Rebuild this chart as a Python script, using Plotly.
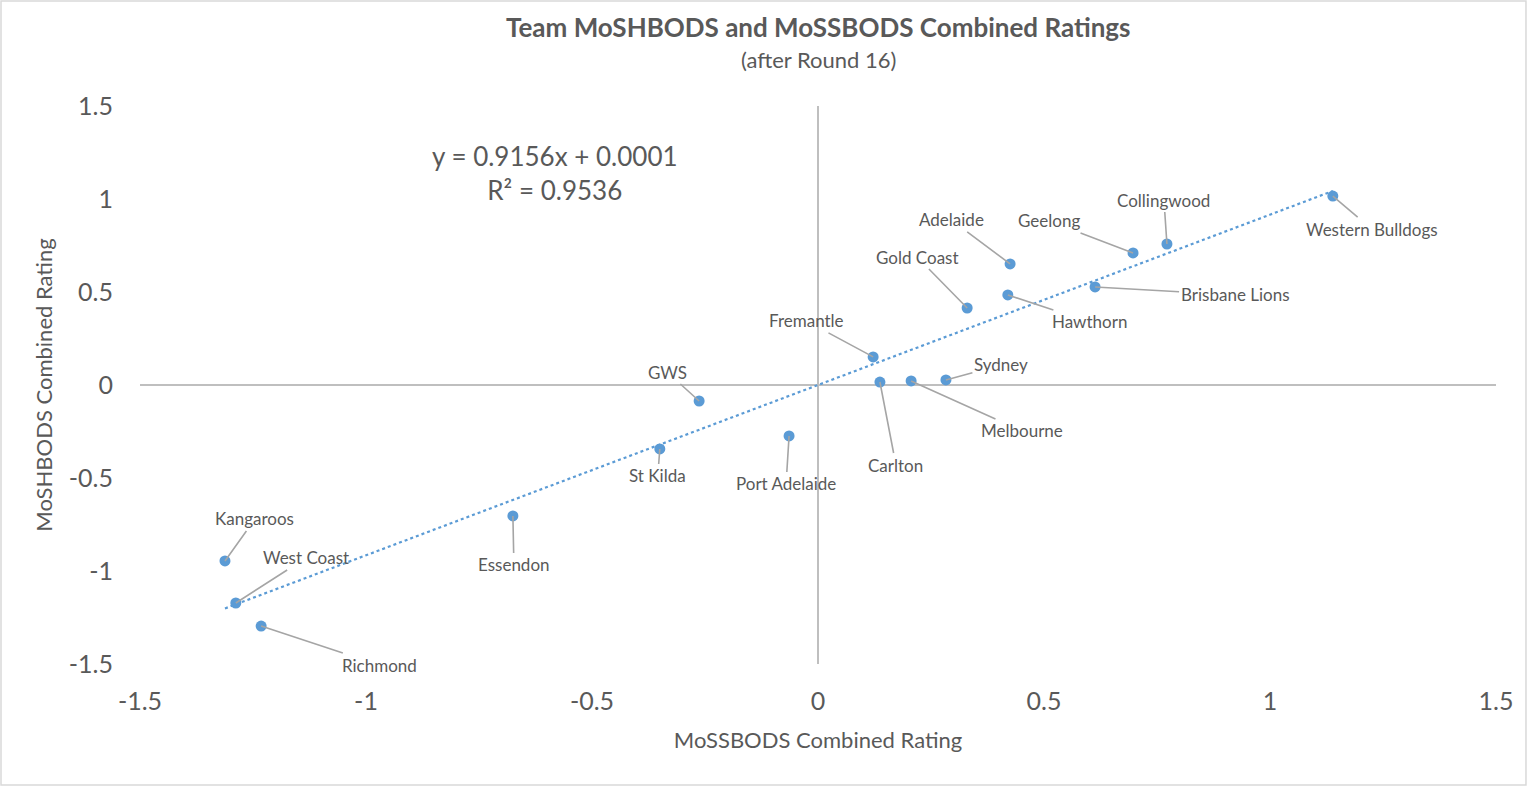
import plotly.graph_objects as go

# MoSSBODS (x) vs MoSHBODS (y) combined ratings
teams = ["Western Bulldogs", "Collingwood", "Geelong", "Adelaide", "Brisbane Lions",
         "Hawthorn", "Gold Coast", "Fremantle", "Sydney", "Melbourne", "Carlton",
         "GWS", "Port Adelaide", "St Kilda", "Essendon", "Kangaroos", "West Coast",
         "Richmond"]
mossbods = [1.139, 0.772, 0.697, 0.425, 0.613, 0.420, 0.330, 0.122, 0.283, 0.206,
            0.137, -0.263, -0.064, -0.350, -0.675, -1.312, -1.288, -1.232]
moshbods = [1.016, 0.758, 0.710, 0.651, 0.527, 0.484, 0.414, 0.151, 0.027, 0.022,
            0.016, -0.086, -0.274, -0.344, -0.704, -0.946, -1.172, -1.296]

# label offsets (pixels from the point)
label_dx = [39, -3, -84, -59, 140, 82, -50, -67, 55, 111, 16, -32, -3, -2, 1, 30, 70, 118]
label_dy = [33, -44, -32, -44, 8, 27, -51, -36, -15, 50, 83, -29, 48, 27, 49, -42, -45, 39]

tick_vals = [-1.5, -1, -0.5, 0, 0.5, 1, 1.5]
tick_text = ["-1.5", "-1", "-0.5", "0", "0.5", "1", "1.5"]

slope = 0.9156
intercept = 0.0001
r_squared = 0.9536

BLUE = "#5B9BD5"
GREY_TEXT = "#595959"
FONT = "Lato"

trend_x = [min(mossbods), max(mossbods)]
trend_y = [slope * v + intercept for v in trend_x]

fig = go.Figure()

fig.add_trace(go.Scatter(
    x=trend_x, y=trend_y, mode="lines",
    line=dict(color=BLUE, width=2.2, dash="dot"),
    hoverinfo="skip", showlegend=False
))

fig.add_trace(go.Scatter(
    x=mossbods, y=moshbods, mode="markers", text=teams,
    marker=dict(color=BLUE, size=11),
    showlegend=False
))

for name, xv, yv, dx, dy in zip(teams, mossbods, moshbods, label_dx, label_dy):
    fig.add_annotation(
        x=xv, y=yv, text=name, ax=dx, ay=dy,
        showarrow=True, arrowhead=0, arrowwidth=1.6, arrowcolor="#A5A5A5",
        standoff=0, startstandoff=0,
        font=dict(family=FONT, size=17, color=GREY_TEXT)
    )

fig.add_annotation(
    x=-0.582, y=1.142, xref="x", yref="y", showarrow=False,
    text=f"y = {slope}x + {intercept}<br>R² = {r_squared}",
    align="center", font=dict(family=FONT, size=26, color=GREY_TEXT)
)

# title and subtitle
fig.add_annotation(
    x=0.5, y=1.1416, xref="paper", yref="paper", showarrow=False,
    xanchor="center", yanchor="middle",
    text="<b>Team MoSHBODS and MoSSBODS Combined Ratings</b>",
    font=dict(family=FONT, size=26, color=GREY_TEXT)
)
fig.add_annotation(
    x=0.5, y=1.0842, xref="paper", yref="paper", showarrow=False,
    xanchor="center", yanchor="middle",
    text="(after Round 16)",
    font=dict(family=FONT, size=22, color=GREY_TEXT)
)

# outer chart border
fig.add_shape(type="rect", xref="paper", yref="paper",
              x0=-0.1025, x1=1.0221, y0=-0.2168, y1=1.188,
              line=dict(color="#D9D9D9", width=1.5), layer="below")

axis_style = dict(
    range=[-1.5, 1.5], tickvals=tick_vals, ticktext=tick_text,
    showgrid=False, zeroline=True, zerolinecolor="#BFBFBF", zerolinewidth=1.5,
    showline=False, ticks="",
    tickfont=dict(family=FONT, size=25, color=GREY_TEXT),
)

fig.update_layout(
    width=1528, height=787,
    margin=dict(l=140, r=32, t=106, b=123),
    paper_bgcolor="white", plot_bgcolor="white",
    font=dict(family=FONT, color=GREY_TEXT),
    hovermode="closest",
)
fig.update_xaxes(axis_style, ticklabelstandoff=20,
                 title=dict(text="MoSSBODS Combined Rating", standoff=18,
                            font=dict(family=FONT, size=22, color=GREY_TEXT)))
fig.update_yaxes(axis_style, ticklabelstandoff=26,
                 title=dict(text="MoSHBODS Combined Rating", standoff=10,
                            font=dict(family=FONT, size=22, color=GREY_TEXT)))

fig.write_html("out.html", config={"displayModeBar": False},
               post_script="document.body.style.margin='0';")
